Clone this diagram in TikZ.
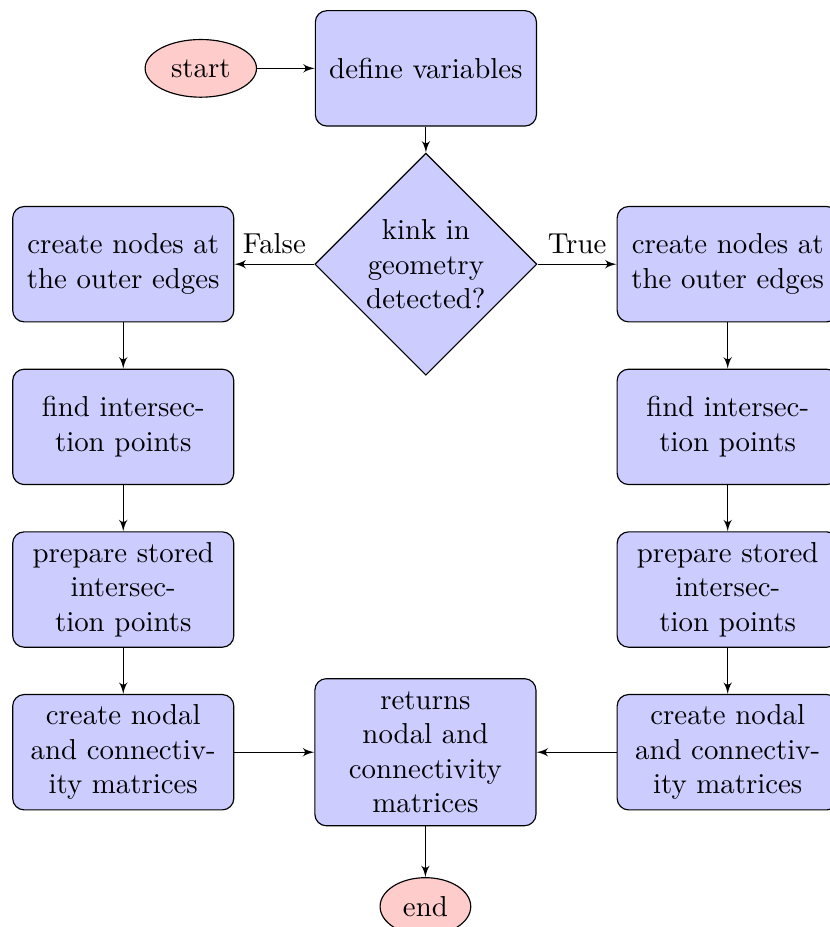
\documentclass[tikz,border=0pt]{standalone}
\usetikzlibrary{shapes.geometric,arrows,positioning}

\begin{document}
\begin{tikzpicture}
					[>=latex', node distance=16pt, auto,
					block/.style={rectangle, draw, fill=blue!20, text width=7em, align=center, rounded corners, minimum height=4em},
					decision/.style={diamond, draw, fill=blue!20, text width=4.5em, align=center, inner sep=0pt, minimum size=77pt},
					cloud/.style={ellipse, draw, fill=red!20, minimum height=2em}]
					\node[block] (define) {define variables};
					\node[cloud] (start) [left=20pt of define] {start};
					\node[decision] (kink) [below=9pt of define] {kink in\\ geometry\\ detected?};
					% False branch
					\node[block] (edgesL) [left=27.7pt of kink] {create nodes at the outer edges};
					\node[block] (interL) [below=of edgesL] {find intersec-\\tion points};
					\node[block] (prepL) [below=of interL] {prepare stored\\ intersec-\\tion points};
					\node[block] (nodalL) [below=of prepL] {create nodal\\ and connectiv-\\ity matrices};
					% True branch
					\node[block] (edgesR) [right=27.4pt of kink] {create nodes at the outer edges};
					\node[block] (interR) [below=of edgesR] {find intersec-\\tion points};
					\node[block] (prepR) [below=of interR] {prepare stored\\ intersec-\\tion points};
					\node[block] (nodalR) [below=of prepR] {create nodal\\ and connectiv-\\ity matrices};
					\node[block, minimum height=51pt] (returns) [right=27.7pt of nodalL] {returns\\ nodal and\\ connectivity\\ matrices};
					\node[cloud] (end) [below=17.6pt of returns] {end};
					\path[->] (start) edge (define)
					(define) edge (kink)
					(kink) edge node [above] {False} (edgesL)
					(kink) edge node [above] {True} (edgesR)
					(edgesL) edge (interL)
					(interL) edge (prepL)
					(prepL) edge (nodalL)
					(edgesR) edge (interR)
					(interR) edge (prepR)
					(prepR) edge (nodalR)
					(nodalL) edge (returns)
					(nodalR) edge (returns)
					(returns) edge (end);
					\coordinate (tl) at (edgesL.west |- define.north);
					\coordinate (br) at (edgesR.west |- end.north);
					\pgfresetboundingbox
					\path[use as bounding box] ([shift={(-4.2pt,3.5pt)}]tl) rectangle ([shift={(73.7pt,-17.3pt)}]br);
				\end{tikzpicture}
\end{document}
